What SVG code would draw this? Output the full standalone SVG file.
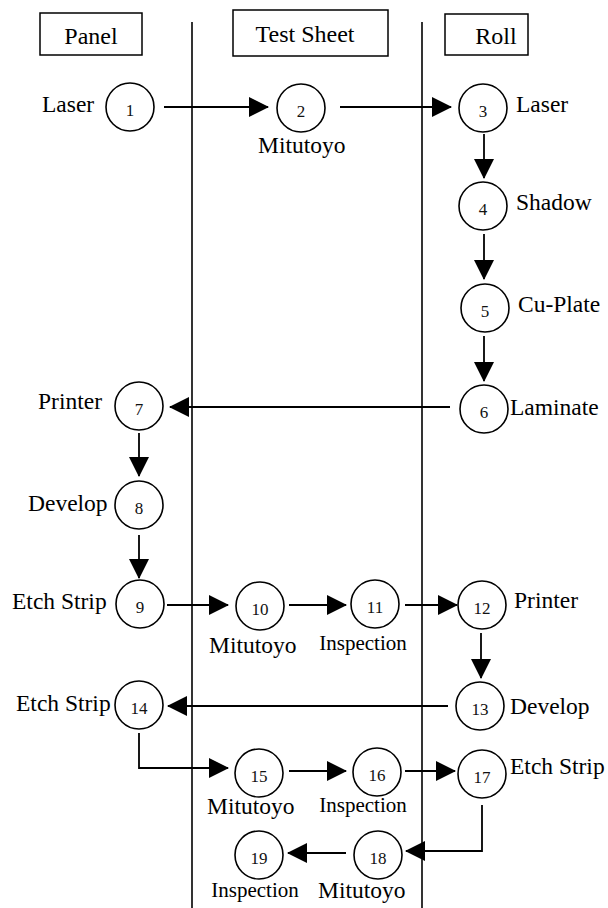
<svg xmlns="http://www.w3.org/2000/svg" width="608" height="908" viewBox="0 0 608 908">
<style>
.box{fill:#fff;stroke:#000;stroke-width:1.5}
.c{fill:#fff;stroke:#000;stroke-width:1.6}
.t{font-family:"Liberation Serif","Times New Roman",serif;font-size:23.5px;fill:#000}
.s{font-family:"Liberation Serif","Times New Roman",serif;font-size:21px;fill:#000;text-anchor:middle}
.n{font-family:"Liberation Serif","Times New Roman",serif;font-size:17px;fill:#111;text-anchor:middle}
.h{font-family:"Liberation Serif","Times New Roman",serif;font-size:24px;fill:#000;text-anchor:middle}
.l{fill:none;stroke:#000;stroke-width:1.8}
.lane{stroke:#000;stroke-width:1.6}
</style>
<defs>
<marker id="ah" markerWidth="20" markerHeight="20" refX="19" refY="10" orient="auto" markerUnits="userSpaceOnUse">
<path d="M0,0 L20,10 L0,20 Z" fill="#000"/>
</marker>
</defs>
<rect width="608" height="908" fill="#fff"/>
<g id="lanes">
<line class="lane" x1="192" y1="22" x2="192" y2="908"/>
<line class="lane" x1="422" y1="22" x2="422" y2="908"/>
</g>
<g id="hdr-panel"><rect class="box" x="40" y="13" width="102" height="42"/><text class="h" x="91" y="44">Panel</text></g>
<g id="hdr-test"><rect class="box" x="233" y="10" width="155" height="46"/><text class="h" x="305" y="42">Test Sheet</text></g>
<g id="hdr-roll"><rect class="box" x="445" y="14" width="83" height="41"/><text class="h" x="496" y="44">Roll</text></g>
<g id="connectors">
<line class="l" x1="164" y1="107" x2="268" y2="107" marker-end="url(#ah)"/>
<line class="l" x1="340" y1="107" x2="451" y2="107" marker-end="url(#ah)"/>
<line class="l" x1="484" y1="134" x2="484" y2="178" marker-end="url(#ah)"/>
<line class="l" x1="484" y1="234" x2="484" y2="279" marker-end="url(#ah)"/>
<line class="l" x1="484" y1="336" x2="484" y2="381" marker-end="url(#ah)"/>
<line class="l" x1="450" y1="407" x2="170" y2="407" marker-end="url(#ah)"/>
<line class="l" x1="139" y1="433" x2="139" y2="476" marker-end="url(#ah)"/>
<line class="l" x1="139" y1="535" x2="139" y2="578" marker-end="url(#ah)"/>
<line class="l" x1="167" y1="605" x2="228" y2="605" marker-end="url(#ah)"/>
<line class="l" x1="289" y1="605" x2="346" y2="605" marker-end="url(#ah)"/>
<line class="l" x1="405" y1="605" x2="457" y2="605" marker-end="url(#ah)"/>
<line class="l" x1="481" y1="633" x2="481" y2="678" marker-end="url(#ah)"/>
<line class="l" x1="448" y1="706" x2="168" y2="706" marker-end="url(#ah)"/>
<polyline class="l" points="139,733 139,768 228,768" marker-end="url(#ah)"/>
<line class="l" x1="289" y1="771" x2="346" y2="771" marker-end="url(#ah)"/>
<line class="l" x1="405" y1="771" x2="455" y2="771" marker-end="url(#ah)"/>
<polyline class="l" points="482,805 482,851 406,851" marker-end="url(#ah)"/>
<line class="l" x1="346" y1="853" x2="288" y2="853" marker-end="url(#ah)"/>
</g>
<g id="n1"><circle class="c" cx="130" cy="107" r="24"/><text class="n" x="130" y="116">1</text><text class="t" x="42" y="112">Laser</text></g>
<g id="n2"><circle class="c" cx="301" cy="108" r="24"/><text class="n" x="301" y="117">2</text><text class="t" x="258" y="153">Mitutoyo</text></g>
<g id="n3"><circle class="c" cx="483" cy="108" r="24"/><text class="n" x="483" y="117">3</text><text class="t" x="516" y="112">Laser</text></g>
<g id="n4"><circle class="c" cx="483" cy="206" r="24"/><text class="n" x="483" y="215">4</text><text class="t" x="516" y="210">Shadow</text></g>
<g id="n5"><circle class="c" cx="485" cy="308" r="24"/><text class="n" x="485" y="317">5</text><text class="t" x="518" y="312">Cu-Plate</text></g>
<g id="n6"><circle class="c" cx="484" cy="409" r="24"/><text class="n" x="484" y="418">6</text><text class="t" x="510" y="415">Laminate</text></g>
<g id="n7"><circle class="c" cx="139" cy="406" r="24"/><text class="n" x="139" y="415">7</text><text class="t" x="38" y="409">Printer</text></g>
<g id="n8"><circle class="c" cx="139" cy="505" r="24"/><text class="n" x="139" y="514">8</text><text class="t" x="28" y="511">Develop</text></g>
<g id="n9"><circle class="c" cx="140" cy="604" r="24"/><text class="n" x="140" y="613">9</text><text class="t" x="12" y="609">Etch Strip</text></g>
<g id="n10"><circle class="c" cx="260" cy="606" r="24"/><text class="n" x="260" y="615">10</text><text class="t" x="209" y="653">Mitutoyo</text></g>
<g id="n11"><circle class="c" cx="375" cy="604" r="24"/><text class="n" x="375" y="613">11</text><text class="s" x="363" y="650">Inspection</text></g>
<g id="n12"><circle class="c" cx="482" cy="605" r="24"/><text class="n" x="482" y="614">12</text><text class="t" x="514" y="608">Printer</text></g>
<g id="n13"><circle class="c" cx="480" cy="706" r="24"/><text class="n" x="480" y="715">13</text><text class="t" x="510" y="714">Develop</text></g>
<g id="n14"><circle class="c" cx="139" cy="705" r="24"/><text class="n" x="139" y="714">14</text><text class="t" x="16" y="711">Etch Strip</text></g>
<g id="n15"><circle class="c" cx="259" cy="773" r="24"/><text class="n" x="259" y="782">15</text><text class="t" x="207" y="814">Mitutoyo</text></g>
<g id="n16"><circle class="c" cx="377" cy="772" r="24"/><text class="n" x="377" y="781">16</text><text class="s" x="363" y="812">Inspection</text></g>
<g id="n17"><circle class="c" cx="482" cy="774" r="24"/><text class="n" x="482" y="783">17</text><text class="t" x="510" y="774">Etch Strip</text></g>
<g id="n18"><circle class="c" cx="378" cy="855" r="24"/><text class="n" x="378" y="864">18</text><text class="t" x="318" y="898">Mitutoyo</text></g>
<g id="n19"><circle class="c" cx="259" cy="855" r="24"/><text class="n" x="259" y="864">19</text><text class="s" x="255" y="897">Inspection</text></g>
</svg>
